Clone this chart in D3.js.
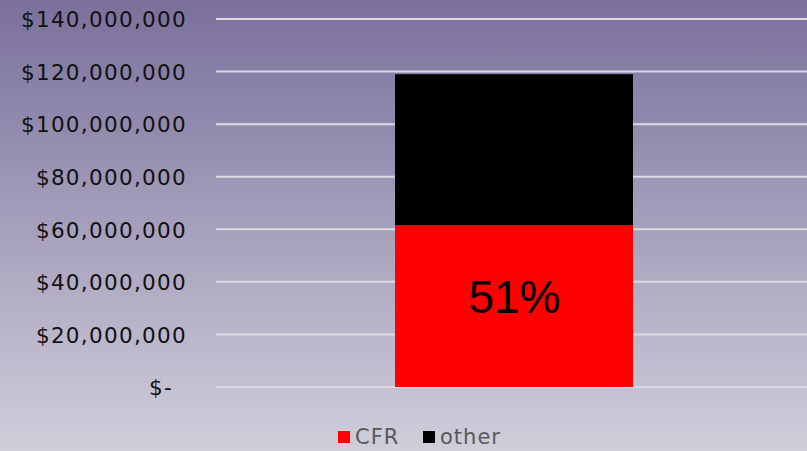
<!DOCTYPE html>
<html><head><meta charset="utf-8">
<script src="https://cdn.jsdelivr.net/npm/d3@7"></script>
<style>html,body{margin:0;padding:0;overflow:hidden;}svg{display:block;}</style>
</head><body>
<svg id="c" width="807" height="451"></svg>
<script>
const categories = ["Total"];
const seriesNames = ["CFR", "other"];
const cfrValues = [61500000];
const otherValues = [57500000];
const tickValues = [0, 20000000, 40000000, 60000000, 80000000, 100000000, 120000000, 140000000];
const seriesColors = ["#ff0000", "#000000"];
const pctLabel = "51%";

const svg = d3.select("#c");
const W = 807, H = 451;
const defs = svg.append("defs");
const grad = defs.append("linearGradient").attr("id","bg").attr("x1",0).attr("y1",0).attr("x2",0).attr("y2",1);
grad.append("stop").attr("offset","0%").attr("stop-color","#7a709c");
grad.append("stop").attr("offset","100%").attr("stop-color","#d1cedb");
svg.append("rect").attr("width",W).attr("height",H).attr("fill","url(#bg)");

const plotLeft = 216, plotRight = 807;
const y = d3.scaleLinear().domain([0, 140000000]).range([387, 19]);
const xb = d3.scaleBand().domain(categories).range([395, 633]);

// gridlines
svg.append("g").selectAll("line").data(tickValues).join("line")
  .attr("x1", plotLeft).attr("x2", plotRight)
  .attr("y1", d => y(d)).attr("y2", d => y(d))
  .attr("stroke", "#dcdbe2").attr("stroke-width", 2);

const labelFont = "'DejaVu Sans', Verdana, sans-serif";
// axis labels
const fmt = d => d === 0 ? "$-" : "$" + d3.format(",")(d);
const axis = d3.axisLeft(y).tickValues(tickValues).tickFormat(fmt).tickSize(0).tickPadding(0);
const ag = svg.append("g").attr("transform", "translate(187,0)").call(axis);
ag.select(".domain").remove();
ag.selectAll("text").attr("font-family", labelFont)
  .attr("font-size", 21.5).attr("letter-spacing", 1.3).attr("fill", "#111").attr("dy", "0.36em");
ag.selectAll(".tick").filter(d => d === 0).select("text").attr("x", -14);

// stacked bars
const data = categories.map((c, i) => ({cat: c, CFR: cfrValues[i], other: otherValues[i]}));
const stack = d3.stack().keys(seriesNames)(data);
svg.append("g").selectAll("g").data(stack).join("g")
  .attr("fill", (d, i) => seriesColors[i])
  .selectAll("rect").data(d => d).join("rect")
  .attr("x", xb(categories[0])).attr("width", xb.bandwidth())
  .attr("y", d => y(d[1])).attr("height", d => y(d[0]) - y(d[1]));

// percent label
svg.append("text").attr("x", xb(categories[0]) + xb.bandwidth()/2 + 0.5).attr("y", 313)
  .attr("text-anchor", "middle").attr("font-family", "'Liberation Sans', Arial, sans-serif")
  .attr("font-size", 46).attr("fill", "#000").text(pctLabel);

// legend
const legend = svg.append("g").attr("font-family", labelFont)
  .attr("font-size", 21).attr("letter-spacing", 1).attr("fill", "#595959");
const legX = [338, 423];
seriesNames.forEach((n, i) => {
  legend.append("rect").attr("x", legX[i]).attr("y", 431).attr("width", 12).attr("height", 12).attr("fill", seriesColors[i]);
  legend.append("text").attr("x", legX[i] + 17).attr("y", 444).text(n);
});
</script>
</body></html>
